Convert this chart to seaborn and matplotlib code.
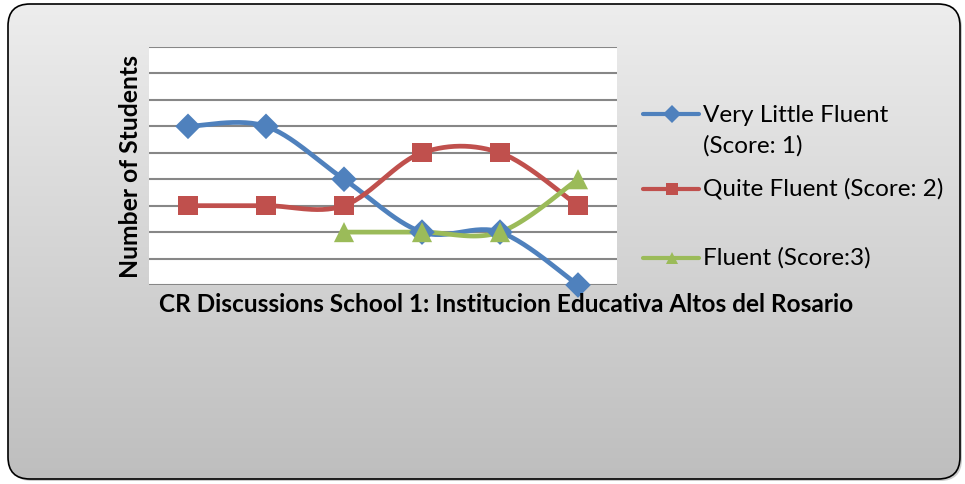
import numpy as np
import pandas as pd
import matplotlib
matplotlib.use("Agg")
import matplotlib.pyplot as plt
import seaborn as sns
from matplotlib.patches import FancyBboxPatch
from matplotlib.lines import Line2D

# ---- data ----
categories = [1, 2, 3, 4, 5, 6]
very_little = [6, 6, 4, 2, 2, 0]
quite = [3, 3, 3, 5, 5, 3]
fluent = [np.nan, np.nan, 2, 2, 2, 4]
series_names = ["Very Little Fluent (Score: 1)", "Quite Fluent (Score: 2)", "Fluent (Score:3)"]
legend_labels = ["Very Little Fluent\n(Score: 1)", "Quite Fluent (Score: 2)", "Fluent (Score:3)"]
colors = ["#4F81BD", "#C0504D", "#9BBB59"]
markers = ["D", "s", "^"]
x_title = "CR Discussions School 1: Institucion Educativa Altos del Rosario"
y_title = "Number of Students"

sns.set_theme(style="white")
plt.rcParams["font.family"] = ["Lato", "DejaVu Sans"]

W, H = 965, 484
fig = plt.figure(figsize=(W / 100, H / 100), dpi=100)
fig.patch.set_facecolor("white")

# background rounded box with gradient
bg = fig.add_axes([0, 0, 1, 1], zorder=-10)
bg.set_xlim(0, W); bg.set_ylim(H, 0); bg.axis("off")
shadow = FancyBboxPatch((10, 6), 952, 475, boxstyle="round,pad=0,rounding_size=22",
                        fc="#9a9a9a", ec="none", alpha=0.5)
bg.add_patch(shadow)
box = FancyBboxPatch((8, 4), 952, 475, boxstyle="round,pad=0,rounding_size=22",
                     fc="none", ec="black", lw=1.2, zorder=3)
bg.add_patch(box)
grad = np.linspace(0, 1, 256).reshape(-1, 1)
top_c = np.array([237, 237, 237]) / 255
bot_c = np.array([190, 190, 190]) / 255
img = top_c[None, None, :] * (1 - grad[:, :, None]) + bot_c[None, None, :] * grad[:, :, None]
im = bg.imshow(img, extent=(8, 960, 479, 4), aspect="auto", zorder=1)
im.set_clip_path(box)

# plot axes
ax = fig.add_axes([149 / W, 1 - 285 / H, (617 - 149) / W, (285 - 47) / H])
ax.set_facecolor("white")


def smooth(xs, ys, n=30):
    xs = np.asarray(xs, float); ys = np.asarray(ys, float)
    m = ~np.isnan(ys)
    xs, ys = xs[m], ys[m]
    P = np.column_stack([xs, ys])
    out = []
    for i in range(len(P) - 1):
        p0 = P[i - 1] if i > 0 else P[i]
        p1 = P[i]; p2 = P[i + 1]
        p3 = P[i + 2] if i + 2 < len(P) else P[i + 1]
        c1 = p1 + (p2 - p0) / 6
        c2 = p2 - (p3 - p1) / 6
        t = np.linspace(0, 1, n)[:, None]
        seg = (1 - t) ** 3 * p1 + 3 * (1 - t) ** 2 * t * c1 + 3 * (1 - t) * t ** 2 * c2 + t ** 3 * p2
        out.append(seg if i == 0 else seg[1:])
    return np.vstack(out)


rows = []
pts = []
for name, vals in zip(series_names, [very_little, quite, fluent]):
    s = smooth([c - 1 for c in categories], vals)
    for k, (xx, yy) in enumerate(s):
        rows.append({"x": xx, "y": yy, "series": name, "order": k})
    for c, v in zip(categories, vals):
        if not np.isnan(v):
            pts.append({"x": c - 1, "y": v, "series": name})
curve_df = pd.DataFrame(rows)
pts_df = pd.DataFrame(pts)

pal = dict(zip(series_names, colors))
sns.lineplot(data=curve_df, x="x", y="y", hue="series", palette=pal, sort=False,
             estimator=None, units="series", linewidth=3.4, legend=False, ax=ax, zorder=3)
for name, m, sz in zip(series_names, markers, [170, 190, 210]):
    sub = pts_df[pts_df.series == name]
    sns.scatterplot(data=sub, x="x", y="y", color=pal[name], marker=m, s=sz,
                    edgecolor="none", linewidth=0, legend=False, ax=ax, zorder=4)

ax.set_xlim(-0.5, 5.5)
ax.set_ylim(0, 9)
ax.set_yticks(range(0, 10))
ax.set_xticks([])
ax.set_yticklabels([])
ax.tick_params(left=False, bottom=False)
ax.grid(axis="y", color="#878787", linewidth=1.5)
ax.set_axisbelow(True)
for sp in ax.spines.values():
    sp.set_visible(False)
ax.set_xlabel(""); ax.set_ylabel("")
for c in ax.collections:
    c.set_clip_on(False)

# axis titles
fig.text(506 / W, 1 - 305 / H, x_title, ha="center", va="center",
         fontsize=17.6, fontweight="bold", color="black")
fig.text(130 / W, 1 - 166 / H, y_title, ha="center", va="center", rotation=90,
         fontsize=17.8, fontweight="bold", color="black")

# legend (manual placement)
leg_y = [114, 189, 258]
text_y = [131, 189, 258]
for lab, col, m, ly, ty in zip(legend_labels, colors, markers, leg_y, text_y):
    fig.add_artist(Line2D([643 / W, 699 / W], [1 - ly / H, 1 - ly / H], color=col, lw=3,
                          transform=fig.transFigure))
    fig.add_artist(Line2D([672 / W], [1 - ly / H], color=col, marker=m, markersize=9,
                          markeredgewidth=0, transform=fig.transFigure))
    fig.text(703 / W, 1 - ty / H, lab, ha="left", va="center", fontsize=17.5,
             linespacing=1.55, color="black")

fig.savefig("out.png", dpi=100)
